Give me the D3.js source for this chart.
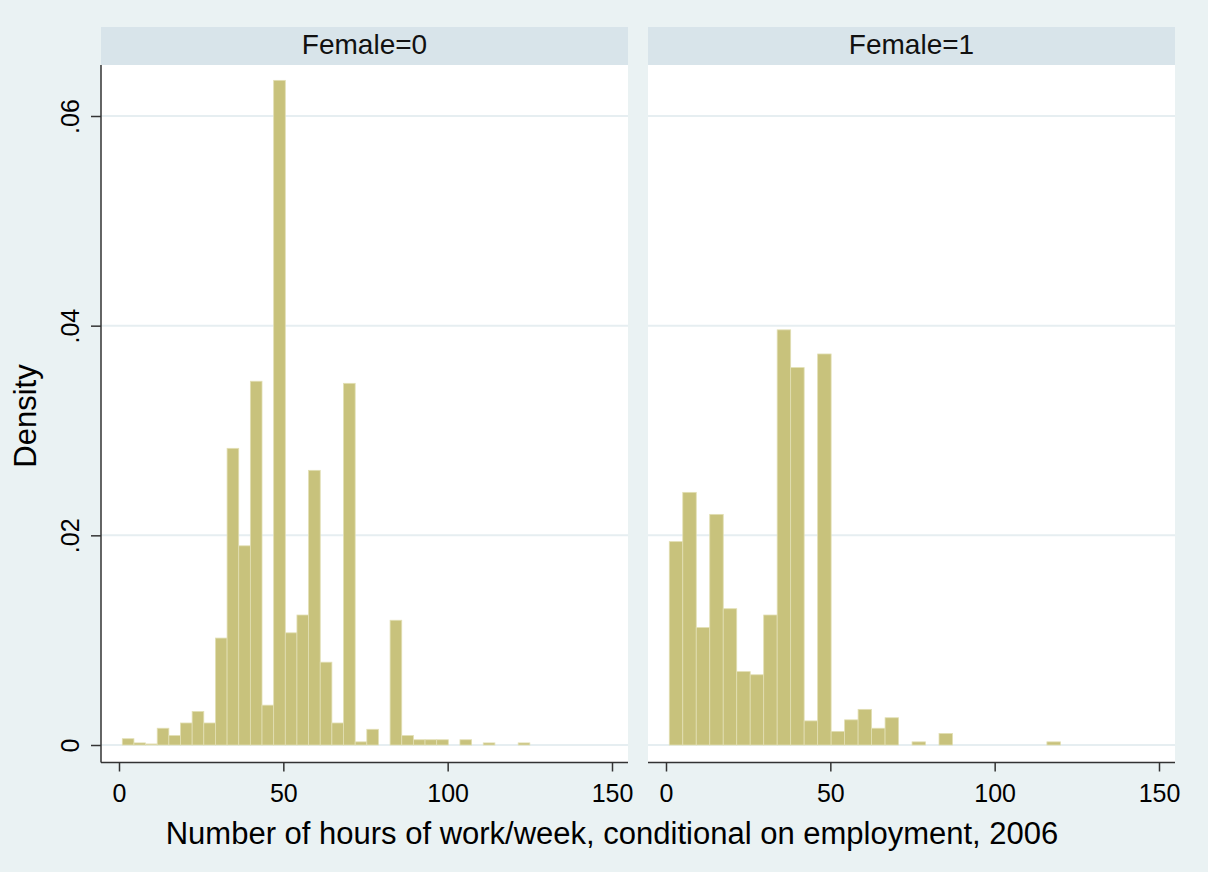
<!DOCTYPE html>
<html>
<head>
<meta charset="utf-8">
<script src="https://cdn.jsdelivr.net/npm/d3@7"></script>
<style>
  body { margin: 0; background: #eaf2f3; }
  svg { display: block; font-family: "Liberation Sans", Arial, sans-serif; }
</style>
</head>
<body>
<div class="chart"></div>
<script>
var svgWidth = 1208;
var svgHeight = 872;

// histogram data
var panelLabels = ["Female=0", "Female=1"];
var binStart = [1, 1];
var binWidth = [124 / 35, 119 / 29];
var densityMale = [0.0006, 0.0002, 0.0001, 0.0016, 0.0009, 0.0021, 0.0032, 0.0021, 0.0102, 0.0283,
  0.0190, 0.0347, 0.0038, 0.0634, 0.0107, 0.0124, 0.0262, 0.0079, 0.0021, 0.0345,
  0.0003, 0.0015, 0, 0.0119, 0.0009, 0.0005, 0.0005, 0.0005, 0, 0.0005,
  0, 0.0002, 0, 0, 0.0002];
var densityFemale = [0.0194, 0.0241, 0.0112, 0.0220, 0.0130, 0.0070, 0.0067, 0.0124, 0.0396, 0.0360,
  0.0023, 0.0373, 0.0013, 0.0024, 0.0034, 0.0016, 0.0026, 0, 0.0003, 0,
  0.0011, 0, 0, 0, 0, 0, 0, 0, 0.0003];
var xTicks = [0, 50, 100, 150];
var yTicks = [0, 0.02, 0.04, 0.06];
var yTickLabels = ["0", ".02", ".04", ".06"];

var series = [densityMale, densityFemale];

var panels = [
  {left: 101, right: 628},
  {left: 648, right: 1175}
];
var stripTop = 27, plotTop = 65, plotBottom = 762.5;

var svg = d3.select(".chart")
  .append("svg")
  .attr("width", svgWidth)
  .attr("height", svgHeight);

svg.append("rect").attr("width", svgWidth).attr("height", svgHeight).attr("fill", "#eaf2f3");

var yScale = d3.scaleLinear().domain([0, 0.06]).range([745, 116]);

panels.forEach(function(p, k) {
  var xScale = d3.scaleLinear().domain([0, 150]).range([p.left + 18, p.right - 16]);

  // strip
  svg.append("rect")
    .attr("x", p.left).attr("y", stripTop)
    .attr("width", p.right - p.left).attr("height", plotTop - stripTop)
    .attr("fill", "#d8e4ea");
  svg.append("text")
    .attr("x", (p.left + p.right) / 2).attr("y", 53.5)
    .attr("text-anchor", "middle")
    .attr("font-size", 28)
    .attr("fill", "#111")
    .text(panelLabels[k]);

  // plot region
  svg.append("rect")
    .attr("x", p.left).attr("y", plotTop)
    .attr("width", p.right - p.left).attr("height", plotBottom - plotTop)
    .attr("fill", "#ffffff");

  // grid
  svg.append("g").selectAll("line")
    .data(yTicks)
    .enter()
    .append("line")
    .attr("x1", p.left).attr("x2", p.right)
    .attr("y1", d => yScale(d)).attr("y2", d => yScale(d))
    .attr("stroke", "#e6eef1")
    .attr("stroke-width", 2);

  // bars
  var vals = series[k];
  svg.append("g").selectAll("rect")
    .data(vals.map(function(v, i) { return {i: i, v: v}; }).filter(d => d.v > 0))
    .enter()
    .append("rect")
    .attr("x", d => xScale(binStart[k] + d.i * binWidth[k]))
    .attr("width", d => xScale(binStart[k] + (d.i + 1) * binWidth[k]) - xScale(binStart[k] + d.i * binWidth[k]))
    .attr("y", d => yScale(d.v))
    .attr("height", d => yScale(0) - yScale(d.v))
    .attr("fill", "#c8c27c")
    .attr("stroke", "#e2dfb4")
    .attr("stroke-width", 0.8);

  // x axis
  svg.append("line")
    .attr("x1", p.left).attr("x2", p.right)
    .attr("y1", plotBottom).attr("y2", plotBottom)
    .attr("stroke", "#333").attr("stroke-width", 1.5);
  var xAxis = svg.append("g")
    .attr("transform", `translate(0, ${plotBottom})`)
    .call(d3.axisBottom(xScale).tickValues(xTicks).tickSize(9).tickFormat(d3.format("d")));
  xAxis.select(".domain").remove();
  xAxis.selectAll(".tick line").attr("stroke", "#333").attr("stroke-width", 1.5);
  xAxis.selectAll(".tick text")
    .attr("y", 39).attr("dy", 0)
    .attr("font-size", 25)
    .attr("font-family", "Liberation Sans, Arial, sans-serif")
    .attr("fill", "#000");

  if (k === 0) {
    svg.append("line")
      .attr("x1", p.left).attr("x2", p.left)
      .attr("y1", plotTop).attr("y2", plotBottom)
      .attr("stroke", "#333").attr("stroke-width", 1.5);
    var yAxis = svg.append("g")
      .attr("transform", `translate(${p.left}, 0)`)
      .call(d3.axisLeft(yScale).tickValues(yTicks).tickSize(10).tickFormat((d, i) => yTickLabels[i]));
    yAxis.select(".domain").remove();
    yAxis.selectAll(".tick line").attr("stroke", "#333").attr("stroke-width", 1.5);
    yAxis.selectAll(".tick text")
      .attr("x", null).attr("dy", 0)
      .attr("text-anchor", "middle")
      .attr("transform", "translate(-22, 0) rotate(-90)")
      .attr("font-size", 25)
      .attr("font-family", "Liberation Sans, Arial, sans-serif")
      .attr("fill", "#000");
  }
});

// axis titles
svg.append("text")
  .attr("x", 612).attr("y", 844)
  .attr("text-anchor", "middle")
  .attr("font-size", 31)
  .attr("fill", "#000")
  .text("Number of hours of work/week, conditional on employment, 2006");

svg.append("text")
  .attr("transform", "translate(36, 416) rotate(-90)")
  .attr("text-anchor", "middle")
  .attr("font-size", 31)
  .attr("fill", "#000")
  .text("Density");
</script>
</body>
</html>
